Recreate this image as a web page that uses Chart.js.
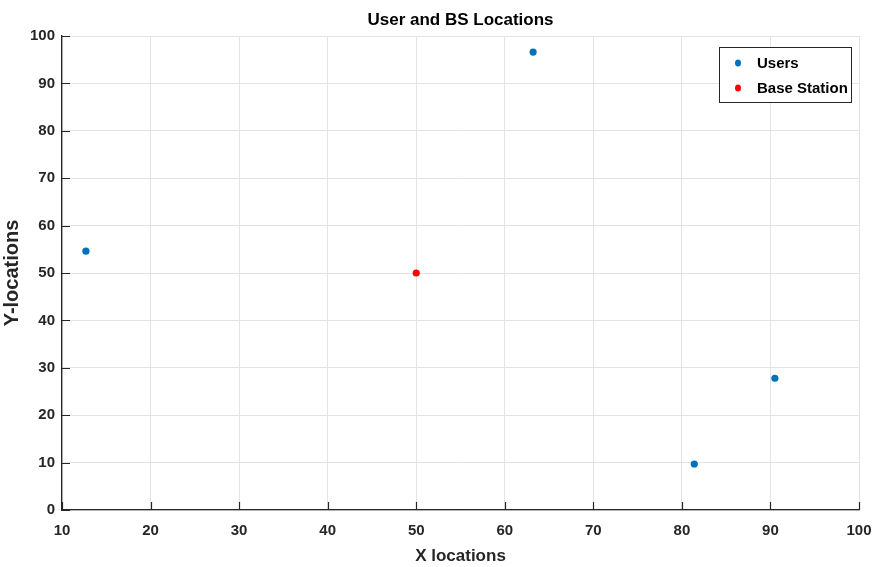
<!DOCTYPE html>
<html>
<head>
<meta charset="utf-8">
<script src="https://cdn.jsdelivr.net/npm/chart.js@4.4.0/dist/chart.umd.min.js"></script>
<style>
  html, body { margin: 0; padding: 0; background: #fff; }
  #wrap { width: 873px; height: 567px; }
</style>
</head>
<body>
<div id="wrap"><canvas id="myChart" width="873" height="567"></canvas></div>
<script>
const userX = [12.7, 63.2, 81.4, 90.5];
const userY = [54.6, 96.6, 9.7, 27.8];
const bsX = [50];
const bsY = [50];
const xTicks = [10, 20, 30, 40, 50, 60, 70, 80, 90, 100];
const yTicks = [0, 10, 20, 30, 40, 50, 60, 70, 80, 90, 100];

const sans = '"Liberation Sans", Arial, sans-serif';
const axisColor = '#262626';

// inward tick marks, plot title and boxed legend inside the axes
const matlabLook = {
    id: 'matlabLook',
    afterDraw(chart) {
        const c = chart.ctx;
        const a = chart.chartArea;
        const xs = chart.scales.x, ys = chart.scales.y;
        c.save();
        c.strokeStyle = axisColor;
        c.lineWidth = 1.2;
        c.beginPath();
        xTicks.forEach(v => {
            const px = Math.round(xs.getPixelForValue(v)) + 0.5;
            c.moveTo(px, a.bottom);
            c.lineTo(px, a.bottom - 8);
        });
        yTicks.forEach(v => {
            const py = Math.round(ys.getPixelForValue(v)) + 0.5;
            c.moveTo(a.left, py);
            c.lineTo(a.left + 8, py);
        });
        c.stroke();

        // title
        c.fillStyle = '#000';
        c.font = 'bold 17px ' + sans;
        c.textAlign = 'center';
        c.textBaseline = 'middle';
        c.fillText('User and BS Locations', (a.left + a.right) / 2, 20);

        // legend
        const bx = 719, by = 47, bw = 132, bh = 55;
        c.fillStyle = '#fff';
        c.fillRect(bx, by, bw, bh);
        c.strokeStyle = axisColor;
        c.lineWidth = 1;
        c.strokeRect(bx + 0.5, by + 0.5, bw, bh);
        c.font = 'bold 15px ' + sans;
        c.textAlign = 'left';
        chart.data.datasets.forEach((ds, i) => {
            const cy = by + 16 + i * 25;
            c.fillStyle = ds.backgroundColor;
            c.beginPath();
            c.ellipse(bx + 19, cy, 3, 3.6, 0, 0, Math.PI * 2);
            c.fill();
            c.fillStyle = '#000';
            c.fillText(ds.label, bx + 38, cy + 1);
        });
        c.restore();
    }
};

const ctx = document.getElementById('myChart').getContext('2d');
const myChart = new Chart(ctx, {
    type: 'scatter',
    data: {
        datasets: [{
            label: 'Users',
            data: userX.map((x, i) => ({ x: x, y: userY[i] })),
            backgroundColor: '#0072BD',
            borderColor: '#0072BD',
            pointRadius: 3.6,
            pointBorderWidth: 0
        }, {
            label: 'Base Station',
            data: bsX.map((x, i) => ({ x: x, y: bsY[i] })),
            backgroundColor: '#FF0000',
            borderColor: '#FF0000',
            pointRadius: 3.6,
            pointBorderWidth: 0
        }]
    },
    options: {
        responsive: false,
        animation: false,
        layout: { padding: { top: 36, right: 14, left: 0, bottom: 0 } },
        plugins: {
            legend: { display: false },
            title: { display: false },
            tooltip: { enabled: false }
        },
        scales: {
            x: {
                type: 'linear',
                min: 10,
                max: 100,
                afterBuildTicks: s => { s.ticks = xTicks.map(v => ({ value: v })); },
                afterFit: s => { s.height = 57; s.paddingRight = 0; s.paddingLeft = 0; },
                grid: { color: '#e3e3e3', drawTicks: false },
                border: { display: true, color: axisColor, width: 1.3 },
                ticks: {
                    color: axisColor,
                    padding: 12,
                    font: { family: sans, size: 15, weight: 'bold' }
                },
                title: {
                    display: true,
                    text: 'X locations',
                    color: axisColor,
                    padding: { top: 5, bottom: 0 },
                    font: { family: sans, size: 17, weight: 'bold' }
                }
            },
            y: {
                type: 'linear',
                min: 0,
                max: 100,
                afterBuildTicks: s => { s.ticks = yTicks.map(v => ({ value: v })); },
                afterFit: s => { s.width = 62; s.paddingTop = 0; s.paddingBottom = 0; },
                grid: { color: '#e3e3e3', drawTicks: false },
                border: { display: true, color: axisColor, width: 1.3 },
                ticks: {
                    color: axisColor,
                    padding: 7,
                    font: { family: sans, size: 15, weight: 'bold' }
                },
                title: {
                    display: true,
                    text: 'Y-locations',
                    color: axisColor,
                    padding: { top: 0, bottom: 3 },
                    font: { family: sans, size: 20, weight: 'bold' }
                }
            }
        }
    },
    plugins: [matlabLook]
});
</script>
</body>
</html>
